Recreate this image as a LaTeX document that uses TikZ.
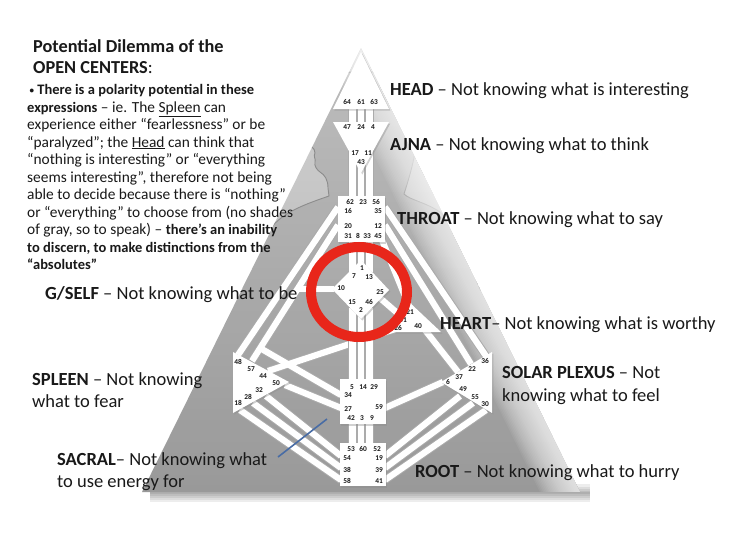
\documentclass[tikz,border=0pt]{standalone}
\usepackage{fontspec}
\setmainfont{Carlito}
\definecolor{ringred}{RGB}{232,38,26}
\definecolor{blueln}{RGB}{72,108,165}
\definecolor{txt}{RGB}{25,25,25}
\newcommand\bodybold[1]{{\fontsize{14.5}{17.5}\selectfont\bfseries #1}}
\begin{document}
\begin{tikzpicture}[x=1pt,y=-1pt,
  chb/.style={line width=8.2pt,draw=black!33},
  chw/.style={line width=6.2pt,draw=white},
  ctr/.style={fill=white},
  csh/.style={fill=black!45,opacity=0.4},
  gate/.style={font=\fontsize{7.4}{7.4}\selectfont\bfseries,text=black!90,inner sep=0pt},
  lbl/.style={font=\fontsize{18.5}{22.5}\selectfont,text=txt,inner sep=0pt,anchor=base west,align=left},
]
\useasboundingbox (0,0) rectangle (740,555);
\fill[white] (0,0) rectangle (740,555);

% shadow under the triangle
\foreach \w in {18,13,9,5,2}{\draw[black,opacity=0.07,line width=\w pt] (150,493)--(590,493);}

% big triangle
\coordinate (TL) at (142,492);
\coordinate (TA) at (361,48);
\coordinate (TR) at (580,492);
\shade[top color=gray!34,bottom color=gray!66] (TL)--(TA)--(TR)--cycle;
\begin{scope}
  \clip (TL)--(TA)--(TR)--cycle;
  % silhouette
  \path[fill=black,fill opacity=0.1,draw=black!45,line width=0.9pt]
    (343,74) .. controls (330,82) and (322,95) .. (321,110)
    .. controls (320,120) and (320,128) .. (317,133)
    .. controls (314,138) and (309,142) .. (311,146)
    .. controls (313,149) and (316,150) .. (315,153)
    .. controls (313,156) and (316,159) .. (315,162)
    .. controls (314,166) and (317,170) .. (320,172)
    .. controls (325,175) and (328,180) .. (328,188)
    -- (329,196)
    .. controls (300,206) and (275,215) .. (265,238)
    .. controls (258,255) and (250,272) .. (240,292)
    -- (200,300) -- (130,520) -- (600,520) -- (520,300) -- (480,290)
    .. controls (470,265) and (460,230) .. (440,212)
    .. controls (425,202) and (410,200) .. (404,194)
    .. controls (410,175) and (418,150) .. (417,125)
    .. controls (415,100) and (400,80) .. (380,74)
    .. controls (368,70) and (355,70) .. (343,74) -- cycle;
  % soft light along the right edge
  \foreach \i in {1,...,24}{\draw[white,opacity=0.055,line width=3*\i pt] (TA)--(TR);}
\end{scope}

% channel end points
\foreach \n/\x/\y in {
  c1648a/338/207, c1648b/238/355, c2057a/338/225, c2057b/252/361,
  c10a/334/289, c10b/298/289, c2034a/260/348, c2034b/341/395,
  c3536a/385/207, c3536b/486/356, c1222a/385/225, c1222b/471/364,
  c4521a/382/240, c4521b/409/306, c2551a/380/298, c2551b/403/318,
  c4037a/425/330, c4037b/458/372, c2644a/398/328, c2644b/268/371,
  c2750a/285/385, c2750b/341/408, c659a/443/382, c659b/385/408,
  c5432a/266/396, c5432b/341/456, c3828a/253/403, c3828b/341/468,
  c5818a/240/410, c5818b/341/480, c1949a/460/396, c1949b/385/456,
  c3955a/473/403, c3955b/385/468, c4130a/486/410, c4130b/385/480,
  v6447a/352.5/104, v6447b/352.5/126, v6124a/361/104, v6124b/361/126,
  v634a/369.5/104, v634b/369.5/126,
  v1762a/352.5/148, v1762b/352.5/199, v4323a/361/168, v4323b/361/199,
  v1156a/369.5/148, v1156b/369.5/199,
  v731a/352.5/240, v731b/352.5/272, v18a/361/240, v18b/361/264,
  v1333a/369.5/240, v1333b/369.5/272,
  v155a/352.5/308, v155b/352.5/382, v214a/361/316, v214b/361/382,
  v4629a/369.5/308, v4629b/369.5/382,
  v4253a/352.5/422, v4253b/352.5/445, v360a/361/422, v360b/361/445,
  v952a/369.5/422, v952b/369.5/445}
  {\coordinate (\n) at (\x,\y);}

% diagonal channels
\foreach \c in {c1648,c2057,c10,c2034,c3536,c1222,c4521,c2551,c4037,c2644,c2750,c659,c5432,c3828,c5818,c1949,c3955,c4130}
  {\draw[chb] (\c a)--(\c b);}
\foreach \c in {c1648,c2057,c10,c2034,c3536,c1222,c4521,c2551,c4037,c2644,c2750,c659,c5432,c3828,c5818,c1949,c3955,c4130}
  {\draw[chw] (\c a)--(\c b);}
% vertical channels
\foreach \c in {v6447,v6124,v634,v1762,v4323,v1156,v731,v18,v1333,v155,v214,v4629,v4253,v360,v952}
  {\draw[chb] (\c a)--(\c b);}
\foreach \c in {v6447,v6124,v634,v1762,v4323,v1156,v731,v18,v1333,v155,v214,v4629,v4253,v360,v952}
  {\draw[chw] (\c a)--(\c b);}

% centres: shadows
\begin{scope}[shift={(1.3,1.5)}]
  \fill[csh] (333,109)--(389,109)--(361,52)--cycle;
  \fill[csh] (333,122)--(389,122)--(361,173)--cycle;
  \fill[csh] (338,196) rectangle (385,242);
  \fill[csh] (361,260)--(389,290)--(361,319)--(332,289)--cycle;
  \fill[csh] (408,301)--(441,332)--(394,332)--cycle;
  \fill[csh] (233,352)--(289,382)--(233,413)--cycle;
  \fill[csh] (492,352)--(441,382)--(492,413)--cycle;
  \fill[csh] (340,379) rectangle (386,424);
  \fill[csh] (340,443) rectangle (386,486);
\end{scope}
% centres
\fill[ctr] (333,109)--(389,109)--(361,52)--cycle;
\fill[ctr] (333,122)--(389,122)--(361,173)--cycle;
\fill[ctr] (338,196) rectangle (385,242);
\fill[ctr] (361,260)--(389,290)--(361,319)--(332,289)--cycle;
\fill[ctr] (408,301)--(441,332)--(394,332)--cycle;
\fill[ctr] (233,352)--(289,382)--(233,413)--cycle;
\fill[ctr] (492,352)--(441,382)--(492,413)--cycle;
\fill[ctr] (340,379) rectangle (386,424);
\fill[ctr] (340,443) rectangle (386,486);

% gate numbers
\foreach \t/\x/\y in {
  64/347/102, 61/361/102, 63/374/102,
  47/347/127, 24/361/127, 4/373/127, 17/355/153, 11/368/153, 43/361/162,
  62/350/202, 23/363/202, 56/376/202, 16/348/211, 35/378/211, 20/348/226, 12/378/226,
  31/348/236, 8/358/236, 33/367/236, 45/378/236,
  1/362/268, 7/354/276, 13/369/277, 10/341/288, 25/380/292, 15/352/302, 46/369/302, 2/361/310,
  21/410/312, 51/403/320, 26/398/328, 40/418/326,
  48/238/362, 57/251/369, 44/263/376, 50/276/383, 32/259/390, 28/248/397, 18/238/403,
  36/485/361, 22/472/369, 37/459/377, 6/448/382, 49/463/389, 55/475/397, 30/485/404,
  5/352/387, 14/363/387, 29/374/387, 34/348/395, 27/348/409, 59/379/407, 42/351/418, 3/362/418, 9/372/418,
  53/351/449, 60/363/449, 52/377/449, 54/347/458, 19/379/458, 38/347/470, 39/379/470, 58/347/481, 41/379/481}
  {\node[gate] (g\t) at (\x,\y) {\t};}

% red ring
\coordinate (ringc) at (359,292);
\draw[ringred,line width=10pt] (ringc) ellipse [x radius=48,y radius=45];

% blue stroke
\coordinate (blA) at (278,457);
\coordinate (blB) at (327,419);
\draw[blueln,line width=1.6pt] (blA)--(blB);

% texts (anchor base = baseline of the last line)
\node[anchor=base west,align=left,font=\fontsize{18.3}{21}\selectfont\bfseries,text=txt,inner sep=0pt] (title) at (33,73)
  {Potential Dilemma of the\\OPEN CENTERS\textmd{:}};
\node[anchor=base west,align=left,font=\fontsize{15.4}{17.5}\selectfont,text=txt,inner sep=0pt] (body) at (27,269.5) {%
\bodybold{\,\raisebox{1.2pt}{\fontsize{9}{9}\selectfont •} There is a polarity potential in these}\\
\bodybold{expressions} – ie. The \underline{Spleen} can\\
experience either “fearlessness” or be\\
“paralyzed”; the \underline{Head} can think that\\
“nothing is interesting” or “everything\\
seems interesting”, therefore not being\\
able to decide because there is “nothing”\\
or “everything” to choose from (no shades\\
of gray, so to speak) – \bodybold{there’s an inability}\\
\bodybold{to discern, to make distinctions from the}\\
\bodybold{“absolutes”}};

\node[lbl] (lhead) at (390,95.5) {\textbf{HEAD} – Not knowing what is interesting};
\node[lbl] (lajna) at (390,150.5) {\textbf{AJNA} – Not knowing what to think};
\node[lbl] (lthroat) at (397,224) {\textbf{THROAT} – Not knowing what to say};
\node[lbl] (lg) at (45,299) {\textbf{G/SELF} – Not knowing what to be};
\node[lbl] (lheart) at (440,329) {\textbf{HEART}– Not knowing what is worthy};
\node[lbl] (lsp) at (502,401) {\textbf{SOLAR PLEXUS} – Not\\knowing what to feel};
\node[lbl] (lspleen) at (32,407.5) {\textbf{SPLEEN} – Not knowing\\what to fear};
\node[lbl] (lsacral) at (57,487.5) {\textbf{SACRAL}– Not knowing what\\to use energy for};
\node[lbl] (lroot) at (415,477) {\textbf{ROOT} – Not knowing what to hurry};
\end{tikzpicture}
\end{document}
